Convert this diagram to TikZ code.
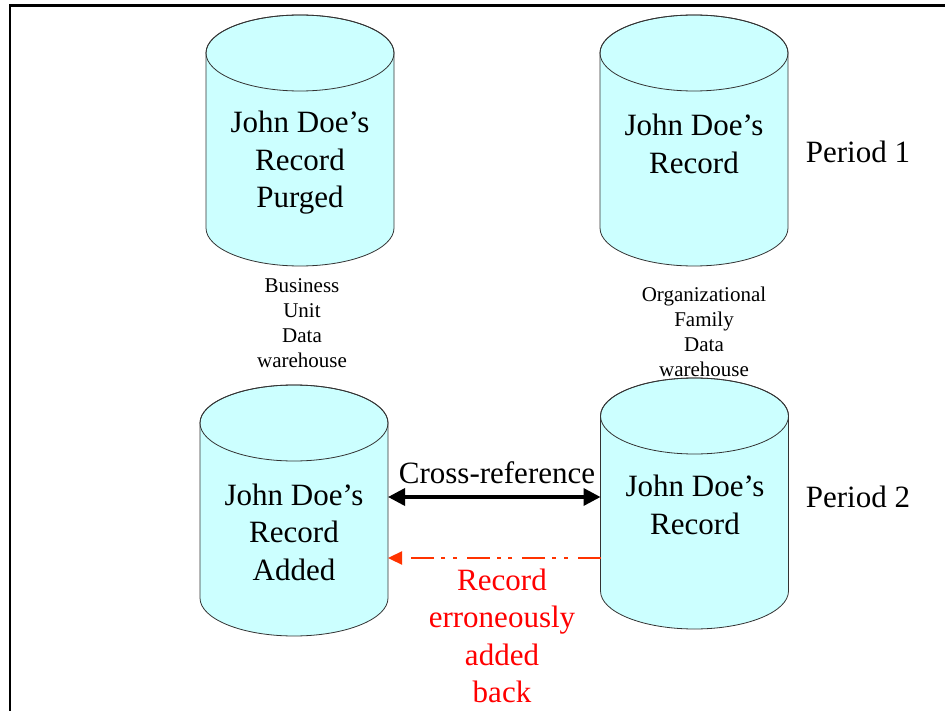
\documentclass[tikz,border=0pt]{standalone}
\usepackage{fontspec}
\setmainfont{Liberation Serif}
\usetikzlibrary{arrows.meta}

\definecolor{dbcyan}{HTML}{CCFFFF}
\definecolor{dbedge}{HTML}{333333}
\definecolor{errorange}{HTML}{FF3300}

\tikzset{
  dbbody/.style={draw=dbedge,line width=0.8pt,fill=dbcyan},
  dbnode/.style={rectangle,inner sep=0pt,outer sep=0pt,minimum width=188pt,minimum height=175pt},
  biglabel/.style={align=center,font=\fontsize{31}{37.5}\selectfont},
  smalllabel/.style={align=center,font=\fontsize{21}{25}\selectfont},
  xref/.style={line width=3.5pt,{Triangle[length=17pt,width=17pt]}-{Triangle[length=17pt,width=17pt]}},
  erratum/.style={errorange,line width=2.3pt,-{Triangle[length=14pt,width=13pt]},
    dash pattern=on 23pt off 10pt on 4pt off 7.5pt on 4pt off 7pt}
}

% cylinder: name, centre x, top ellipse centre y
\newcommand{\dbcyl}[3]{%
  \begin{scope}[shift={(#2,#3)}]
    \filldraw[dbbody] (-94,0) -- (-94,-175) arc (180:360:94 and 38) -- (94,0) arc (0:180:94 and 38) -- cycle;
    \draw[dbbody,fill=none] (0,0) ellipse (94 and 38);
    \node[dbnode] (#1) at (0,-87.5) {};
  \end{scope}}

\begin{document}
\begin{tikzpicture}[x=1pt,y=1pt]
\useasboundingbox (0,0) rectangle (945,-711);
\draw [black,line width=3pt] (9,-5.5) -- (945,-5.5);
\draw [black,line width=2.3pt] (9.8,-5.5) -- (9.8,-711);
% period 1
\dbcyl{bu1}{300}{-53}
\dbcyl{of1}{694}{-53}
\node[biglabel] (bu1txt) at (300,-163) {John Doe’s\\Record\\Purged};
\node[biglabel] (of1txt) at (694,-144) {John Doe’s\\Record};
\node[biglabel] (p1) at (858,-152) {Period 1};
\node[smalllabel] (bulab) at (302,-323.5) {Business\\Unit\\Data\\warehouse};
\node[smalllabel] (oflab) at (704,-332) {Organizational\\Family\\Data\\warehouse};
% period 2
\dbcyl{bu2}{294}{-423}
\dbcyl{of2}{694.5}{-416}
\node[biglabel] (bu2txt) at (294,-532) {John Doe’s\\Record\\Added};
\node[biglabel] (of2txt) at (695,-505) {John Doe’s\\Record};
\node[biglabel] (p2) at (858,-497) {Period 2};
\draw[xref] ([yshift=13.5pt]bu2.east) -- ([yshift=13.5pt]bu2.east -| of2.west);
\node[biglabel] (xreftxt) at (497,-473) {Cross-reference};
\draw[erratum] ([yshift=-54.5pt]of2.west) -- ([yshift=-54.5pt]of2.west -| bu2.east);
\node[biglabel,text=red] (errtxt) at (502,-636) {Record\\erroneously\\added\\back};
\end{tikzpicture}
\end{document}
